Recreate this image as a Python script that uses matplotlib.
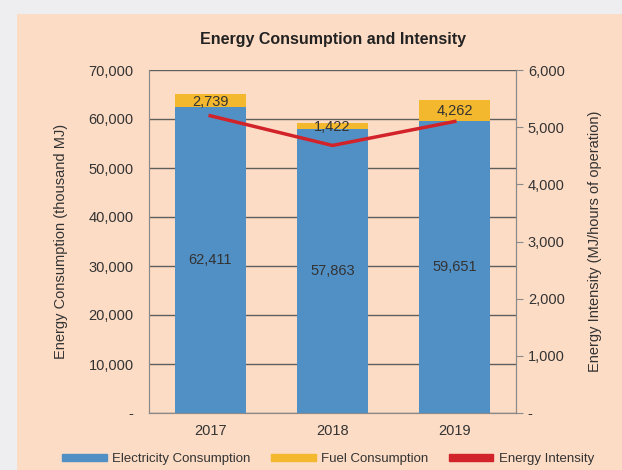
import numpy as np
import matplotlib
matplotlib.use("Agg")
import matplotlib.pyplot as plt
from matplotlib.patches import Rectangle, Patch
from matplotlib.ticker import FuncFormatter

years = ["2017", "2018", "2019"]
electricity = [62411, 57863, 59651]
fuel = [2739, 1422, 4262]
intensity = [5200, 4680, 5100]

blue = "#5190C5"
yellow = "#F4B82E"
red = "#D2232A"
peach = "#FDDCC5"

plt.rcParams["font.family"] = ["Liberation Sans", "DejaVu Sans"]

fig = plt.figure(figsize=[6.22, 4.70], dpi=100, facecolor="#EEEEF0")
# peach panel behind the chart
fig.patches.append(Rectangle((17/622, 0), 1, 1 - 14/470, transform=fig.transFigure,
                             facecolor=peach, edgecolor="none", zorder=-5))

ax = fig.add_axes([149/622, 1 - 413/470, (516-149)/622, (413-70)/470])
ax.set_facecolor(peach)
ax2 = ax.twinx()

x = np.arange(len(years))
w = 0.58
ax.bar(x, electricity, w, color=blue, zorder=3)
ax.bar(x, fuel, w, bottom=electricity, color=yellow, zorder=3)

for i in range(len(years)):
    ax.text(x[i], electricity[i] / 2, f"{electricity[i]:,}", ha="center", va="center",
            fontsize=10.5, color="#333333", zorder=4)
    ax.text(x[i], electricity[i] + fuel[i] / 2 - 250, f"{fuel[i]:,}", ha="center", va="center",
            fontsize=10.5, color="#333333", zorder=4)

ax.set_xlim(-0.5, 2.5)
ax.set_ylim(0, 70000)
ax.set_yticks(np.arange(0, 70001, 10000))
fmt = FuncFormatter(lambda v, p: "-" if v == 0 else f"{int(v):,}")
ax.yaxis.set_major_formatter(fmt)
ax.set_xticks(x)
ax.set_xticklabels(years)
ax.grid(axis="y", color="#5E5E5E", linewidth=1, zorder=1)
ax.set_axisbelow(True)
ax.tick_params(axis="y", length=0, pad=11, labelsize=10.5, labelcolor="#333333")
ax.tick_params(axis="x", length=0, labelsize=10.5, labelcolor="#333333", pad=8)
for s in ax.spines.values():
    s.set_color("#8A8A8A")
ax.spines["top"].set_visible(False)
ax.set_ylabel("Energy Consumption (thousand MJ)", fontsize=10.5, color="#333333", labelpad=15)

ax2.plot(x, intensity, color=red, linewidth=2.5, zorder=5)
ax2.set_ylim(0, 6000)
ax2.set_yticks(np.arange(0, 6001, 1000))
ax2.yaxis.set_major_formatter(fmt)
ax2.tick_params(axis="y", length=5, color="#8A8A8A", labelsize=10.5, labelcolor="#333333")
for s in ax2.spines.values():
    s.set_color("#8A8A8A")
ax2.spines["top"].set_visible(False)
ax2.set_ylabel("Energy Intensity (MJ/hours of operation)", fontsize=10.5, color="#333333",
               labelpad=17)

ax.set_title("Energy Consumption and Intensity", fontsize=11.5, fontweight="bold",
             color="#222222", pad=19)

handles = [Patch(color=blue, label="Electricity Consumption"),
           Patch(color=yellow, label="Fuel Consumption"),
           Patch(color=red, label="Energy Intensity")]
fig.legend(handles=handles, loc="center", bbox_to_anchor=(0.527, 1 - 459/470), ncol=3,
           frameon=False, fontsize=9.5, handlelength=3.4, handleheight=0.45,
           columnspacing=1.55, handletextpad=0.4, labelcolor="#333333")

fig.savefig("out.png", dpi=100, facecolor=fig.get_facecolor())
